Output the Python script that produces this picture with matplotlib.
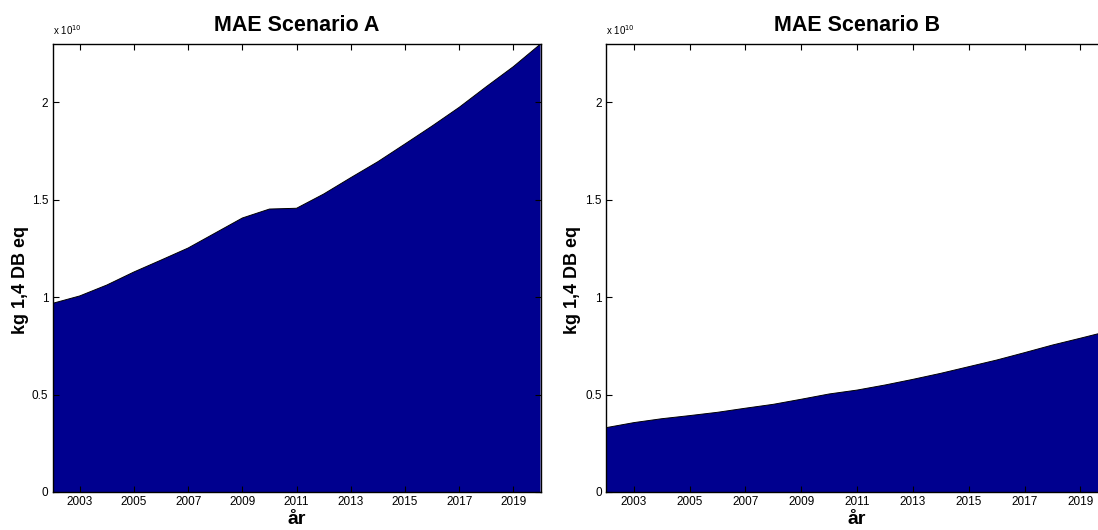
import numpy as np
import matplotlib.pyplot as plt
from matplotlib.ticker import FuncFormatter

plt.rcParams['font.family'] = ['Liberation Sans', 'DejaVu Sans']

years = np.arange(2002, 2021)

# kg 1,4 DB eq per year
mae_a = [0.968, 1.006, 1.062, 1.129, 1.190, 1.252, 1.329, 1.406, 1.452, 1.456,
         1.529, 1.613, 1.695, 1.786, 1.878, 1.974, 2.080, 2.183, 2.299]
mae_b = [0.330, 0.356, 0.376, 0.392, 0.409, 0.430, 0.450, 0.476, 0.503, 0.523,
         0.549, 0.578, 0.609, 0.643, 0.677, 0.715, 0.754, 0.789, 0.825]
scale = 1e10

titles = ["MAE Scenario A", "MAE Scenario B"]
series = [mae_a, mae_b]
ytick_vals = [0, 0.5, 1, 1.5, 2]
xtick_vals = list(range(2003, 2020, 2))

fig = plt.figure(figsize=(10.98, 5.30), dpi=100)
positions = [[0.0479, 0.0717, 0.4444, 0.8453],
             [0.5519, 0.0717, 0.4574, 0.8453]]

for pos, title, vals in zip(positions, titles, series):
    ax = fig.add_axes(pos)
    y = np.array(vals) * scale
    ax.fill_between(years, 0, y, facecolor='#00008f', edgecolor='none')
    ax.plot(years, y, color='black', lw=0.7)
    ax.set_xlim(2002, 2020)
    ax.set_ylim(0, max(mae_a) * scale)
    ax.set_xticks(xtick_vals)
    ax.set_xticklabels([str(v) for v in xtick_vals], fontsize=8.5)
    ax.set_yticks([v * scale for v in ytick_vals])
    ax.yaxis.set_major_formatter(FuncFormatter(lambda v, p: f"{v / scale:g}"))
    ax.tick_params(direction='in', length=4, width=0.8, top=True, right=True,
                   labelsize=8.5, pad=3)
    for sp in ax.spines.values():
        sp.set_linewidth(1.0)
    ax.set_title(title, fontsize=15.5, fontweight='bold', pad=9)
    ax.set_xlabel("år", fontsize=14, fontweight='bold', labelpad=2)
    ax.set_ylabel("kg 1,4 DB eq", fontsize=13, fontweight='bold')
    ax.yaxis.set_label_coords(-0.049, 0.473)
    # exponent shown above the y axis, MATLAB style
    ax.text(0.0, 1.015, r"x 10$^{10}$", transform=ax.transAxes, fontsize=7,
            ha='left', va='bottom')
    ax.set_zorder(1)

fig.savefig("out.png", dpi=100)
